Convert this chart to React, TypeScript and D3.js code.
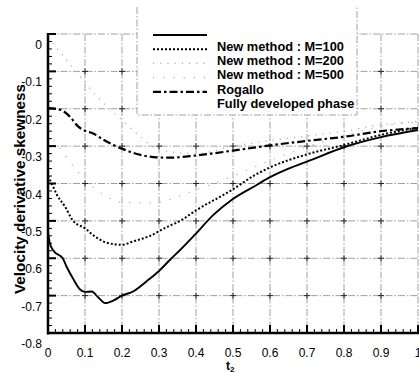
import React from "react";
import * as d3 from "d3";

const xTicks = [0, 0.1, 0.2, 0.3, 0.4, 0.5, 0.6, 0.7, 0.8, 0.9, 1];
const xTickLabels = ["0", "0.1", "0.2", "0.3", "0.4", "0.5", "0.6", "0.7", "0.8", "0.9", "1"];
const yTicks = [0, -0.1, -0.2, -0.3, -0.4, -0.5, -0.6, -0.7, -0.8];
const yTickLabels = ["0", "-0.1", "-0.2", "-0.3", "-0.4", "-0.5", "-0.6", "-0.7", "-0.8"];

const m100T = [0, 0.005, 0.015, 0.04, 0.05, 0.068, 0.086, 0.1, 0.118, 0.136, 0.154, 0.177, 0.2, 0.23, 0.266, 0.3, 0.33, 0.357, 0.397, 0.447, 0.496, 0.564, 0.6, 0.65, 0.708, 0.8, 0.9, 1.0];
const m100V = [-0.53, -0.56, -0.58, -0.6, -0.622, -0.655, -0.683, -0.69, -0.689, -0.705, -0.72, -0.713, -0.7, -0.689, -0.662, -0.634, -0.604, -0.578, -0.537, -0.484, -0.444, -0.404, -0.383, -0.36, -0.338, -0.303, -0.276, -0.257];

const m200T = [0, 0.01, 0.024, 0.046, 0.068, 0.1, 0.127, 0.158, 0.2, 0.23, 0.276, 0.32, 0.357, 0.4, 0.496, 0.56, 0.6, 0.7, 0.8, 0.9, 1.0];
const m200V = [-0.38, -0.4, -0.43, -0.462, -0.5, -0.52, -0.542, -0.558, -0.564, -0.555, -0.54, -0.517, -0.5, -0.472, -0.418, -0.377, -0.357, -0.322, -0.297, -0.27, -0.25];

const m500T = [0, 0.05, 0.1, 0.15, 0.2, 0.25, 0.3, 0.4, 0.5, 0.6, 0.8, 0.9, 1.0];
const m500V = [-0.01, -0.07, -0.13, -0.185, -0.23, -0.275, -0.31, -0.32, -0.3, -0.285, -0.26, -0.243, -0.234];

const rogalloT = [0, 0.05, 0.1, 0.15, 0.2, 0.28, 0.4, 0.52, 0.56, 0.7, 0.8, 0.9, 1.0];
const rogalloV = [-0.26, -0.33, -0.39, -0.43, -0.45, -0.452, -0.417, -0.372, -0.355, -0.302, -0.272, -0.247, -0.236];

const fullyT = [0, 0.02, 0.037, 0.059, 0.082, 0.1, 0.122, 0.15, 0.177, 0.203, 0.24, 0.294, 0.33, 0.4, 0.5, 0.6, 0.7, 0.8, 0.9, 1.0];
const fullyV = [-0.198, -0.2, -0.204, -0.221, -0.248, -0.259, -0.266, -0.283, -0.297, -0.308, -0.321, -0.33, -0.331, -0.325, -0.312, -0.298, -0.286, -0.275, -0.26, -0.252];

const legendLabels = ["New method : M=100", "New method : M=200", "New method : M=500", "Rogallo", "Fully developed phase"];

const W = 419;
const H = 372;

export default function App() {
  const x = d3.scaleLinear().domain([0, 1]).range([48, 418]);
  const y = d3.scaleLinear().domain([0, -0.8]).range([34, 333]);
  const line = d3
    .line<[number, number]>()
    .x((d) => x(d[0]))
    .y((d) => y(d[1]))
    .curve(d3.curveMonotoneX);
  const zip = (t: number[], v: number[]) => t.map((tt, i) => [tt, v[i]] as [number, number]);

  const series = [
    { d: zip(m100T, m100V), stroke: "#000", width: 1.9, dash: "none" },
    { d: zip(m200T, m200V), stroke: "#000", width: 2, dash: "2,2" },
    { d: zip(m500T, m500V), stroke: "#aaa", width: 1.2, dash: "1.2,6" },
    { d: zip(rogalloT, rogalloV), stroke: "#aaa", width: 1.2, dash: "1.2,9" },
    { d: zip(fullyT, fullyV), stroke: "#000", width: 2.2, dash: "8,3,2.5,3" },
  ];

  const minorX = d3.range(0, 1.0001, 0.02);
  const minorY = d3.range(0, -0.8001, -0.02);
  const gridX = xTicks.filter((t) => t > 0);
  const gridY = yTicks.filter((v) => v > -0.8);
  const gridStyle = { stroke: "#a0a0a0", strokeWidth: 1, strokeDasharray: "7,2,1.5,2" };

  const legX0 = 153;
  const legX1 = 207;
  const legTextX = 217;
  const legRowY = (i: number) => 35 + i * 14.2;

  return (
    <svg
      width={W}
      height={H}
      style={{ position: "absolute", left: 0, top: 0, background: "#fff" }}
      fontFamily="'Liberation Sans', Arial, sans-serif"
    >
      <rect x={0} y={0} width={W} height={H} fill="#fff" />
      {/* grid */}
      {gridX.map((t) => (
        <line key={"gx" + t} x1={x(t)} x2={x(t)} y1={y(0)} y2={y(-0.8)} {...gridStyle} />
      ))}
      {gridY.map((v) => (
        <line key={"gy" + v} x1={x(0)} x2={x(1)} y1={y(v)} y2={y(v)} {...gridStyle} />
      ))}
      {gridX.slice(0, -1).map((t) =>
        gridY.slice(1).map((v) => (
          <path
            key={"p" + t + "_" + v}
            d={`M${x(t) - 3},${y(v)}H${x(t) + 3}M${x(t)},${y(v) - 3}V${y(v) + 3}`}
            stroke="#222"
            strokeWidth={1}
          />
        ))
      )}
      {/* curves */}
      {series.map((s, i) => (
        <path
          key={"s" + i}
          d={line(s.d) || ""}
          fill="none"
          stroke={s.stroke}
          strokeWidth={s.width}
          strokeDasharray={s.dash}
        />
      ))}
      {/* legend */}
      <rect x={137} y={7} width={220} height={108} fill="#fff" />
      <path d="M137,7V115H357V7" fill="none" {...gridStyle} />
      {series.map((s, i) => (
        <g key={"l" + i}>
          <line
            x1={legX0}
            x2={legX1}
            y1={legRowY(i)}
            y2={legRowY(i)}
            stroke={s.stroke}
            strokeWidth={s.width}
            strokeDasharray={s.dash}
          />
          <text x={legTextX} y={legRowY(i) + 16} fontSize={12.8} fontWeight="bold" fill="#000">
            {legendLabels[i]}
          </text>
        </g>
      ))}
      {/* axes */}
      <line x1={x(0)} x2={x(0)} y1={y(0) - 1} y2={y(-0.8) + 1.5} stroke="#000" strokeWidth={2.5} />
      <line x1={x(0) - 1} x2={x(1) + 2} y1={y(-0.8)} y2={y(-0.8)} stroke="#000" strokeWidth={2.5} />
      {minorX.map((t, i) => (
        <line key={"mx" + i} x1={x(t)} x2={x(t)} y1={y(-0.8)} y2={y(-0.8) - (i % 5 === 0 ? 8 : 4)} stroke="#000" strokeWidth={i % 5 === 0 ? 2 : 1} />
      ))}
      {minorY.map((v, i) => (
        <line key={"my" + i} x1={x(0)} x2={x(0) + (i % 5 === 0 ? 8 : 4)} y1={y(v)} y2={y(v)} stroke="#000" strokeWidth={i % 5 === 0 ? 2 : 1} />
      ))}
      {/* tick labels */}
      {xTicks.map((t, i) => (
        <text key={"xt" + i} x={x(t)} y={357} fontSize={12} textAnchor="middle" fill="#000">
          {xTickLabels[i]}
        </text>
      ))}
      {yTicks.map((v, i) => (
        <text key={"yt" + i} x={42} y={y(v) + 15} fontSize={12} textAnchor="end" fill="#000">
          {yTickLabels[i]}
        </text>
      ))}
      {/* axis titles */}
      <text x={226} y={370} fontSize={12} fontWeight="bold" fill="#000">
        t<tspan fontSize={8} dy={1.5}>2</tspan>
      </text>
      <text
        transform={`translate(24.5,189) rotate(-90)`}
        fontSize={15.3}
        fontWeight="bold"
        textAnchor="middle"
        fill="#000"
      >
        Velocity derivative skewness
      </text>
    </svg>
  );
}
